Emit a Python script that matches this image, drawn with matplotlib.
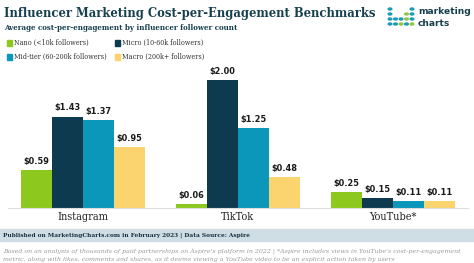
import matplotlib
matplotlib.use("Agg")
import matplotlib.pyplot as plt
from matplotlib import font_manager as fm
import numpy as np

categories = ["Instagram", "TikTok", "YouTube*"]
series_names = ["Nano (<10k followers)", "Micro (10-60k followers)",
                "Mid-tier (60-200k followers)", "Macro (200k+ followers)"]
nano = [0.59, 0.06, 0.25]
micro = [1.43, 2.00, 0.15]
midtier = [1.37, 1.25, 0.11]
macro = [0.95, 0.48, 0.11]
colors = ["#8cc81e", "#0d3a4f", "#0a97b9", "#fbd46f"]

cond = any("Condensed" in f.fname and "Serif" in f.fname for f in fm.fontManager.ttflist)
stretch = "condensed" if cond else "normal"
k = 1.12 if cond else 1.0

W, H = 474, 263
fig = plt.figure(figsize=(W/100, H/100), dpi=100)
fig.patch.set_facecolor("white")

ax = fig.add_axes([8/W, (H-208)/H, 460/W, 140/H])
x = np.arange(len(categories))
bw = 0.2
vals = [nano, micro, midtier, macro]
for i, (v, c) in enumerate(zip(vals, colors)):
    pos = x + (i - 1.5) * bw
    bars = ax.bar(pos, v, width=bw, color=c, label=series_names[i], zorder=2)
    for b, val in zip(bars, v):
        ax.annotate(f"${val:.2f}", (b.get_x() + b.get_width()/2, val),
                    xytext=(0, 3), textcoords="offset points",
                    ha="center", va="bottom", fontsize=5.9*k, fontweight="bold",
                    color="#1a1a1a", family="DejaVu Sans", fontstretch=stretch)
ax.set_xlim(-0.484, 2.487)
ax.set_ylim(0, 2.19)
for s in ["top", "right", "left"]:
    ax.spines[s].set_visible(False)
ax.spines["bottom"].set_color("#dddddd")
ax.spines["bottom"].set_linewidth(0.8)
ax.set_yticks([])
ax.set_xticks(x)
ax.set_xticklabels(categories, family="DejaVu Serif", fontsize=7*k, color="#222222",
                   fontstretch=stretch)
ax.tick_params(axis="x", length=0, pad=3)

# Title and subtitle
fig.text(4/W, 1 - 13/H, "Influencer Marketing Cost-per-Engagement Benchmarks",
         family="DejaVu Serif", fontweight="bold", fontsize=8.3*k, color="#17404f",
         ha="left", va="center", fontstretch=stretch)
fig.text(4/W, 1 - 28/H, "Average cost-per-engagement by influencer follower count",
         family="DejaVu Serif", fontweight="bold", fontsize=5.1*k, color="#17404f",
         ha="left", va="center", fontstretch=stretch)

# Legend (manual layout, 2x2)
leg_pos = [(7, 43), (115, 43), (7, 57), (115, 57)]
for (lx, ly), name, c in zip(leg_pos, series_names, colors):
    fig.patches.append(plt.Rectangle((lx/W, 1 - (ly+2.5)/H), 5/W, 5/H,
                                     transform=fig.transFigure, color=c))
    fig.text((lx+7)/W, 1 - ly/H, name, family="DejaVu Serif", fontsize=4.6*k,
             color="#333333", ha="left", va="center", fontstretch=stretch)

# Logo
dot_rows = [
    [(0, "#1a9bb3"), (4, "#1a9bb3")],
    [(0, "#1a9bb3"), (3, "#8cc63f"), (4, "#1a9bb3")],
    [(0, "#1a9bb3"), (1, "#1a9bb3"), (2, "#1a9bb3"), (3, "#8cc63f"), (4, "#1a9bb3")],
    [(0, "#1a9bb3"), (1, "#1a9bb3"), (2, "#8cc63f"), (3, "#1a9bb3"), (4, "#8cc63f")],
]
for r, row in enumerate(dot_rows):
    for cidx, col in row:
        fig.patches.append(plt.Circle(((390 + cidx*5.5)/W, 1 - (9 + r*5)/H), 1.8/W,
                                      transform=fig.transFigure, color=col))
fig.text(418/W, 1 - 12/H, "marketing", family="DejaVu Sans", fontweight="bold",
         fontsize=6.6, color="#17404f", ha="left", va="center")
fig.text(418/W, 1 - 23/H, "charts", family="DejaVu Sans", fontweight="bold",
         fontsize=6.6, color="#17404f", ha="left", va="center")

# Footer
fig.patches.append(plt.Rectangle((0, 1 - 241/H), 1, 12/H, transform=fig.transFigure,
                                 color="#cfdde4", zorder=0))
fig.text(3/W, 1 - 235/H, "Published on MarketingCharts.com in February 2023 | Data Source: Aspire",
         family="DejaVu Serif", fontweight="bold", fontsize=4.15*k, color="#17303f",
         ha="left", va="center", fontstretch=stretch)
fig.text(3/W, 1 - 251/H,
         "Based on an analysis of thousands of paid partnerships on Aspire's platform in 2022 | *Aspire includes views in YouTube's cost-per-engagement",
         family="DejaVu Serif", style="italic", fontsize=4.5, color="#9a9a9a",
         ha="left", va="center")
fig.text(3/W, 1 - 259/H,
         "metric, along with likes, comments and shares, as it deems viewing a YouTube video to be an explicit action taken by users",
         family="DejaVu Serif", style="italic", fontsize=4.5, color="#9a9a9a",
         ha="left", va="center")

fig.savefig("out.png", dpi=100, facecolor="white")
